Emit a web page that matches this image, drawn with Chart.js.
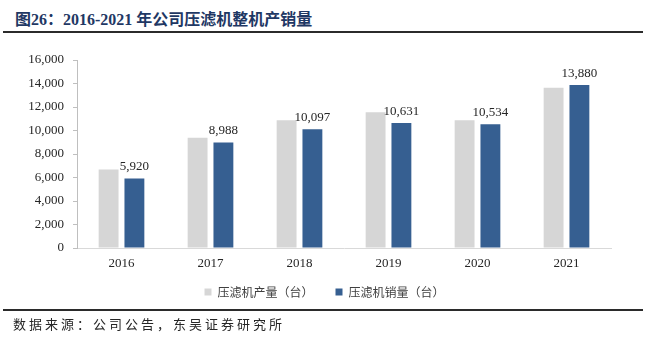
<!DOCTYPE html>
<html>
<head>
<meta charset="utf-8">
<script src="https://cdn.jsdelivr.net/npm/chart.js@4"></script>
<style>
  html, body { margin: 0; padding: 0; background: #fff; }
  body { width: 649px; height: 346px; position: relative; overflow: hidden; }
  .title {
    position: absolute; left: 15px; top: 6px;
    font: bold 16px "Liberation Serif", "Noto Sans CJK SC", serif;
    color: #1f3864; white-space: nowrap;
  }
  .rule { position: absolute; left: 3px; width: 640px; height: 2px; background: #2b2b2b; }
  .source {
    position: absolute; left: 13px; top: 315px;
    font: 13px "Noto Sans CJK SC", sans-serif; letter-spacing: 3px;
    color: #262626; white-space: nowrap; line-height: 18px;
  }
  .box { position: absolute; left: 0; top: 40px; width: 649px; height: 277px; }
</style>
</head>
<body>
<div class="title">图26：2016-2021 年公司压滤机整机产销量</div>
<div class="box"><canvas id="salesChart"></canvas></div>
<div class="rule" style="top:31px"></div>
<div class="rule" style="top:309px"></div>
<div class="source">数据来源：公司公告，东吴证券研究所</div>

<script>
// 年份与产销量（台）
const years = ['2016', '2017', '2018', '2019', '2020', '2021'];
const output = [6680, 9390, 10870, 11550, 10870, 13630];
const sales = [5920, 8988, 10097, 10631, 10534, 13880];
const seriesNames = ['压滤机产量（台）', '压滤机销量（台）'];

const serif = '"Liberation Serif", "Times New Roman", serif';

// 销量柱顶上标数值
const valueLabels = {
    id: 'valueLabels',
    afterDatasetsDraw(chart) {
        const ctx = chart.ctx;
        const meta = chart.getDatasetMeta(1);
        ctx.save();
        ctx.font = '13px ' + serif;
        ctx.fillStyle = '#262626';
        ctx.textAlign = 'center';
        ctx.textBaseline = 'alphabetic';
        meta.data.forEach((bar, i) => {
            ctx.fillText(sales[i].toLocaleString('en-US'), bar.x, bar.y - 8);
        });
        ctx.restore();
    }
};

// 图例横向按整个画布居中，并上移一点贴近年份标签
const placeLegend = {
    id: 'placeLegend',
    afterLayout(chart) {
        const lg = chart.legend;
        lg.left = 0;
        lg.right = chart.width;
        lg.top -= 9;
        lg.bottom -= 9;
    }
};

new Chart(document.getElementById('salesChart'), {
    type: 'bar',
    data: {
        labels: years,
        datasets: [
            { label: seriesNames[0], data: output, backgroundColor: '#d6d6d6' },
            { label: seriesNames[1], data: sales, backgroundColor: '#365f91' }
        ]
    },
    options: {
        responsive: true,
        maintainAspectRatio: false,
        animation: false,
        devicePixelRatio: 1,
        categoryPercentage: 0.58,
        barPercentage: 0.77,
        layout: { padding: { top: 20, right: 38, left: 0, bottom: 0 } },
        plugins: {
            tooltip: { enabled: false },
            legend: {
                position: 'bottom',
                labels: {
                    boxWidth: 7,
                    boxHeight: 7,
                    padding: 22,
                    color: '#404040',
                    font: { family: '"Noto Sans CJK SC", sans-serif', size: 12 }
                }
            }
        },
        scales: {
            x: {
                afterFit(scale) { scale.height = 25; },
                grid: { display: false, drawTicks: false },
                border: { display: true, color: '#d9d9d9' },
                ticks: { padding: 8, color: '#262626', font: { family: serif, size: 13 } }
            },
            y: {
                min: 0,
                max: 16000,
                afterFit(scale) { scale.width = 77; },
                grid: { drawOnChartArea: false, drawTicks: true, tickLength: 4, color: '#bfbfbf' },
                border: { display: true, color: '#bfbfbf' },
                ticks: {
                    stepSize: 2000,
                    padding: 9,
                    color: '#262626',
                    font: { family: serif, size: 13 },
                    callback: v => v.toLocaleString('en-US')
                }
            }
        }
    },
    plugins: [valueLabels, placeLegend]
});
</script>
</body>
</html>
